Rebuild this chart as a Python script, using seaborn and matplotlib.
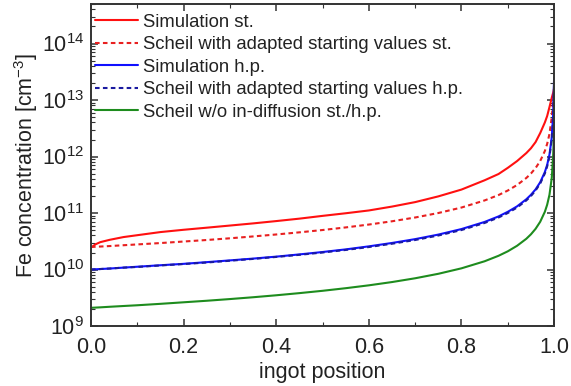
import matplotlib
matplotlib.use("Agg")
import matplotlib.pyplot as plt
from matplotlib.ticker import (LogLocator, MultipleLocator, LogFormatterMathtext,
                               NullFormatter, FormatStrFormatter)
import seaborn as sns
import pandas as pd

# ingot positions (fraction solidified)
position = [0.0, 0.01, 0.02, 0.04, 0.07, 0.1, 0.15, 0.2, 0.25, 0.3, 0.35, 0.4, 0.45,
            0.5, 0.55, 0.6, 0.65, 0.7, 0.75, 0.8, 0.85, 0.88, 0.9, 0.92, 0.94, 0.95,
            0.96, 0.97, 0.98, 0.985, 0.99, 0.995, 0.998, 1.0]

# Fe concentration [cm^-3]
sim_st = [2.45e10, 2.8e10, 3.05e10, 3.35e10, 3.75e10, 4.05e10, 4.6e10, 5.05e10, 5.5e10,
          6.0e10, 6.55e10, 7.2e10, 7.95e10, 8.9e10, 9.9e10, 1.11e11, 1.3e11, 1.56e11,
          1.97e11, 2.6e11, 3.8e11, 4.9e11, 6.3e11, 8.3e11, 1.15e12, 1.4e12, 1.8e12,
          2.6e12, 4.0e12, 5.2e12, 7.5e12, 1.1e13, 1.35e13, 1.6e13]
scheil_st = [2.5e10, 2.53e10, 2.55e10, 2.6e10, 2.69e10, 2.78e10, 2.94e10, 3.13e10, 3.33e10,
             3.57e10, 3.85e10, 4.17e10, 4.55e10, 5.0e10, 5.56e10, 6.25e10, 7.14e10, 8.33e10,
             1.0e11, 1.25e11, 1.67e11, 2.08e11, 2.5e11, 3.13e11, 4.17e11, 5.0e11, 6.25e11,
             8.33e11, 1.25e12, 1.67e12, 2.5e12, 5.0e12, 1.0e13, 1.5e13]
sim_hp = [1.0e10, 1.01e10, 1.02e10, 1.04e10, 1.08e10, 1.12e10, 1.19e10, 1.26e10, 1.35e10,
          1.45e10, 1.56e10, 1.69e10, 1.85e10, 2.04e10, 2.27e10, 2.57e10, 2.95e10, 3.45e10,
          4.15e10, 5.2e10, 6.95e10, 8.7e10, 1.05e11, 1.31e11, 1.75e11, 2.1e11, 2.62e11,
          3.5e11, 5.3e11, 7.1e11, 1.08e12, 2.2e12, 5.5e12, 2.5e13]
scheil_hp = [1.0e10, 1.01e10, 1.02e10, 1.04e10, 1.08e10, 1.11e10, 1.18e10, 1.25e10, 1.33e10,
             1.43e10, 1.54e10, 1.67e10, 1.82e10, 2.0e10, 2.22e10, 2.5e10, 2.86e10, 3.33e10,
             4.0e10, 5.0e10, 6.67e10, 8.33e10, 1.0e11, 1.25e11, 1.67e11, 2.0e11, 2.5e11,
             3.33e11, 5.0e11, 6.67e11, 1.0e12, 2.0e12, 5.0e12, 2.0e13]
scheil_noindiff = [2.1e9, 2.12e9, 2.14e9, 2.19e9, 2.26e9, 2.33e9, 2.47e9, 2.63e9, 2.8e9,
                   3.0e9, 3.23e9, 3.5e9, 3.82e9, 4.2e9, 4.67e9, 5.25e9, 6.0e9, 7.0e9,
                   8.4e9, 1.05e10, 1.4e10, 1.75e10, 2.1e10, 2.63e10, 3.5e10, 4.2e10, 5.25e10,
                   7.0e10, 1.05e11, 1.4e11, 2.1e11, 4.2e11, 1.05e12, 3.0e12]

labels = ["Simulation st.",
          "Scheil with adapted starting values st.",
          "Simulation h.p.",
          "Scheil with adapted starting values h.p.",
          "Scheil w/o in-diffusion st./h.p."]

sns.set_style("ticks")
plt.rcParams["font.family"] = ["Liberation Sans", "DejaVu Sans"]
plt.rcParams["mathtext.fontset"] = "custom"
plt.rcParams["mathtext.rm"] = "Liberation Sans"
plt.rcParams["mathtext.it"] = "Liberation Sans:italic"
plt.rcParams["mathtext.bf"] = "Liberation Sans:bold"

fig = plt.figure(figsize=(5.71, 3.86), dpi=100)
ax = fig.add_axes([0.1594, 0.1554, 0.8110, 0.8342])

dash = (0, (2.2, 1.6))
series = [
    (sim_st, labels[0], "#ff1010", "-"),
    (scheil_st, labels[1], "#e82020", dash),
    (sim_hp, labels[2], "#1010ff", "-"),
    (scheil_hp, labels[3], "#1a1aa0", dash),
    (scheil_noindiff, labels[4], "#1e8c1e", "-"),
]
for values, name, color, ls in series:
    df = pd.DataFrame({"position": position, "conc": values})
    sns.lineplot(data=df, x="position", y="conc", ax=ax, color=color,
                 linewidth=1.5, linestyle=ls, label=name, estimator=None, sort=False)

ax.set_yscale("log")
ax.set_xlim(0.0, 1.0)
ax.set_ylim(1e9, 5e14)

ax.xaxis.set_major_locator(MultipleLocator(0.2))
ax.xaxis.set_minor_locator(MultipleLocator(0.1))
ax.xaxis.set_major_formatter(FormatStrFormatter("%.1f"))
ax.yaxis.set_major_locator(LogLocator(base=10, numticks=20))
ax.yaxis.set_minor_locator(LogLocator(base=10, subs=range(2, 10), numticks=200))
ax.yaxis.set_major_formatter(LogFormatterMathtext())
ax.yaxis.set_minor_formatter(NullFormatter())

ax.tick_params(which="both", direction="in", top=True, right=True,
               color="#333333", labelsize=15.5, labelcolor="#222222")
ax.tick_params(axis="x", pad=8)
ax.tick_params(axis="y", pad=5)
ax.tick_params(which="major", length=5, width=1.1)
ax.tick_params(which="minor", length=2.8, width=0.8)
for sp in ax.spines.values():
    sp.set_color("#333333")
    sp.set_linewidth(1.4)

ax.set_xlabel("ingot position", fontsize=15.5, color="#222222", labelpad=3)
ax.set_ylabel("Fe concentration [cm$^{-3}$]", fontsize=15.5, color="#222222", labelpad=1.5)

leg = ax.legend(loc="upper left", bbox_to_anchor=(0.0086, 0.970), frameon=False,
                fontsize=13.3, handlelength=2.35, handletextpad=0.27,
                labelspacing=0.3, borderaxespad=0.0, borderpad=0.0)
for t in leg.get_texts():
    t.set_color("#222222")

fig.savefig("out.png", dpi=100)
